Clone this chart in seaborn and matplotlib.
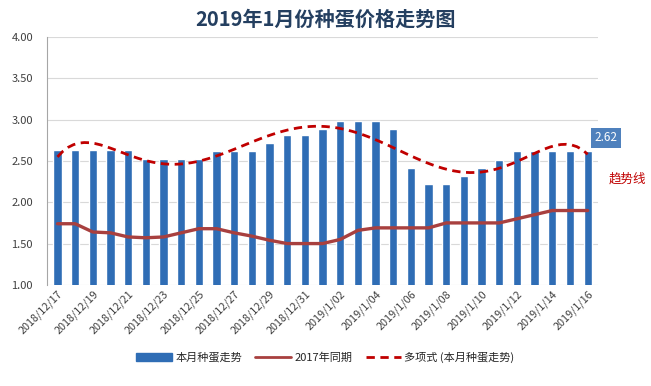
import numpy as np
import seaborn as sns
import matplotlib.pyplot as plt
from matplotlib.lines import Line2D
from matplotlib.patches import Patch

dates = ['2018/12/17', '2018/12/18', '2018/12/19', '2018/12/20', '2018/12/21',
         '2018/12/22', '2018/12/23', '2018/12/24', '2018/12/25', '2018/12/26',
         '2018/12/27', '2018/12/28', '2018/12/29', '2018/12/30', '2018/12/31',
         '2019/1/01', '2019/1/02', '2019/1/03', '2019/1/04', '2019/1/05',
         '2019/1/06', '2019/1/07', '2019/1/08', '2019/1/09', '2019/1/10',
         '2019/1/11', '2019/1/12', '2019/1/13', '2019/1/14', '2019/1/15',
         '2019/1/16']
price_this_month = [2.63, 2.63, 2.63, 2.63, 2.63, 2.52, 2.52, 2.52, 2.52, 2.62,
                    2.62, 2.62, 2.72, 2.81, 2.81, 2.89, 2.98, 2.98, 2.98, 2.89,
                    2.41, 2.22, 2.22, 2.32, 2.41, 2.51, 2.62, 2.62, 2.62, 2.62,
                    2.62]
price_2017 = [1.74, 1.74, 1.64, 1.63, 1.58, 1.57, 1.58, 1.63, 1.68, 1.68,
              1.63, 1.59, 1.54, 1.50, 1.50, 1.50, 1.55, 1.66, 1.69, 1.69,
              1.69, 1.69, 1.75, 1.75, 1.75, 1.75, 1.80, 1.85, 1.90, 1.90,
              1.90]

BAR = '#2F6DB5'
LINE17 = '#A8403F'
TREND = '#C00000'

sns.set_style('white')
plt.rcParams['font.family'] = ['Noto Sans CJK SC', 'DejaVu Sans']

fig = plt.figure(figsize=(6.51, 3.86), dpi=100)
ax = fig.add_axes([0.072, 0.262, 0.847, 0.642])

pos = np.arange(len(dates))
sns.barplot(x=dates, y=price_this_month, color=BAR, width=0.47,
            saturation=1, ax=ax)
sns.lineplot(x=pos, y=price_2017, color=LINE17, linewidth=2.4, ax=ax)
sns.regplot(x=pos, y=price_this_month, order=6, ci=None, scatter=False,
            line_kws=dict(color=TREND, linestyle=(0, (3, 2)), linewidth=2),
            ax=ax)

ax.set_ylim(1, 4)
ax.set_yticks(np.arange(1, 4.01, 0.5))
ax.set_yticklabels([f'{v:.2f}' for v in np.arange(1, 4.01, 0.5)],
                   fontsize=8, color='#404040')
ax.grid(axis='y', color='#D9D9D9', linewidth=0.8)
ax.set_axisbelow(True)
ax.set_xlim(-0.6, len(dates) - 0.4)
ax.set_xticks(pos[::2])
ax.set_xticklabels(dates[::2], rotation=45, ha='right', rotation_mode='anchor',
                   fontsize=7.8, color='#404040')
ax.tick_params(axis='y', length=0, pad=10)
ax.tick_params(axis='x', length=0, pad=3)
ax.set_xlabel('')
ax.set_ylabel('')
for side in ['top', 'right', 'bottom']:
    ax.spines[side].set_visible(False)
ax.spines['left'].set_color('#A6A6A6')
ax.spines['left'].set_linewidth(0.8)

# data label on the last bar
ax.text(pos[-1] + 0.4, price_this_month[-1] + 0.16, f'{price_this_month[-1]:.2f}',
        color='white', fontsize=8.5, ha='left', va='center',
        bbox=dict(boxstyle='square,pad=0.3', fc='#4F81BD', ec='none'),
        clip_on=False)
fig.text(0.935, 0.537, '趋势线', color=TREND, fontsize=9, ha='left', va='center')

fig.suptitle('2019年1月份种蛋价格走势图', x=0.5, y=0.977, fontsize=14.5,
             fontweight='bold', color='#243F60')

handles = [Patch(color=BAR),
           Line2D([], [], color=LINE17, linewidth=2),
           Line2D([], [], color=TREND, linewidth=2, linestyle=(0, (3, 2)))]
labels = ['本月种蛋走势', '2017年同期', '多项式 (本月种蛋走势)']
fig.legend(handles, labels, loc='center', bbox_to_anchor=(0.5, 0.075), ncol=3,
           frameon=False, fontsize=8, handlelength=3.2, handletextpad=0.3,
           columnspacing=1.2)

fig.savefig('out.png', dpi=100)
